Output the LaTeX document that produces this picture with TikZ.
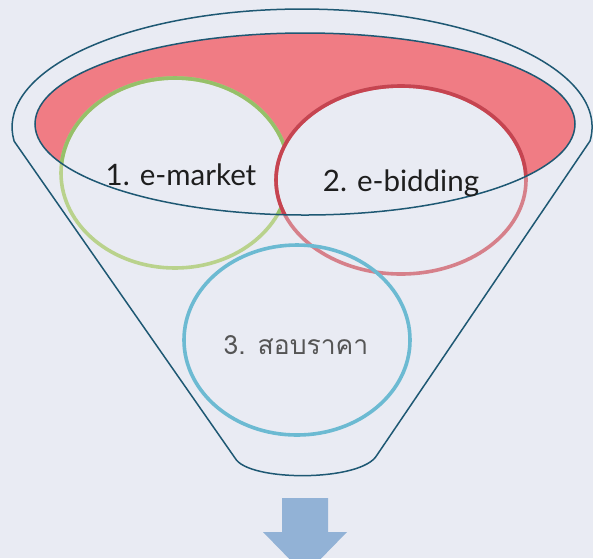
\documentclass[tikz,border=0pt]{standalone}
\usepackage{fontspec}
\newfontfamily\latinf{Lato}
\newfontfamily\thaifont[Script=Thai]{Loma}
\definecolor{bgc}{RGB}{233,235,243}
\definecolor{pinkfill}{RGB}{240,124,132}
\definecolor{funnelc}{RGB}{30,88,115}
\definecolor{greendark}{RGB}{150,192,105}
\definecolor{greenlight}{RGB}{185,210,140}
\definecolor{reddark}{RGB}{198,68,80}
\definecolor{redlight}{RGB}{214,128,138}
\definecolor{bluering}{RGB}{108,186,210}
\definecolor{arrowc}{RGB}{146,178,214}
\definecolor{txtdark}{RGB}{30,30,30}
\definecolor{txtgray}{RGB}{85,85,85}
\begin{document}
\begin{tikzpicture}[x=1pt,y=-1pt,
  funnelline/.style={draw=funnelc,line width=1.5pt},
  ring/.style={line width=3.6pt},
  lbl/.style={font=\latinf\fontsize{29.5}{31}\selectfont,text=txtdark,inner sep=0pt}]
\useasboundingbox (0,0) rectangle (593,558);
\clip (0,0) rectangle (593,558);
\fill[bgc] (0,0) rectangle (593,558);
% pink inner rim
\fill[pinkfill] (305,124) ellipse [x radius=270, y radius=91];
% circles
\coordinate (cg) at (175,173);
\coordinate (cr) at (401,180);
\coordinate (cb) at (297,340);
\fill[bgc] (cg) ellipse [x radius=114, y radius=95];
\draw[ring,greenlight] (cg) ellipse [x radius=114, y radius=95];
\begin{scope}
  \clip (305,124) ellipse [x radius=270, y radius=91];
  \draw[ring,greendark] (cg) ellipse [x radius=114, y radius=95];
\end{scope}
\fill[bgc] (cr) ellipse [x radius=125, y radius=94];
\draw[ring,redlight] (cr) ellipse [x radius=125, y radius=94];
\begin{scope}
  \clip (305,124) ellipse [x radius=270, y radius=91];
  \draw[ring,reddark] (cr) ellipse [x radius=125, y radius=94];
\end{scope}
\draw[ring,bluering] (cb) ellipse [x radius=113, y radius=95];
% inner rim outline
\draw[funnelline] (305,124) ellipse [x radius=270, y radius=91];
% funnel outline
\coordinate (lc) at (14,141);
\coordinate (rc) at (590,141);
\coordinate (lb) at (235,458);
\coordinate (rb) at (377,455);
\draw[funnelline,line join=round] (lc) -- (lb) .. controls (248,482) and (362,482) .. (rb) -- (rc)
  arc[start angle=6.8, end angle=-186.8, x radius=290, y radius=118] -- cycle;
% labels
\node[lbl] (t1) at (181,175) {1. e-market};
\node[lbl] (t2) at (401,183) {2. e-bidding};
\node[inner sep=0pt,text=txtgray,font=\thaifont\fontsize{26.5}{28}\selectfont] (t3) at (296,345) {3. สอบราคา};
% arrow
\fill[arrowc] (282,498) -- (328,498) -- (328,532) -- (347,532) -- (305,575) -- (263,532) -- (282,532) -- cycle;
\end{tikzpicture}
\end{document}
